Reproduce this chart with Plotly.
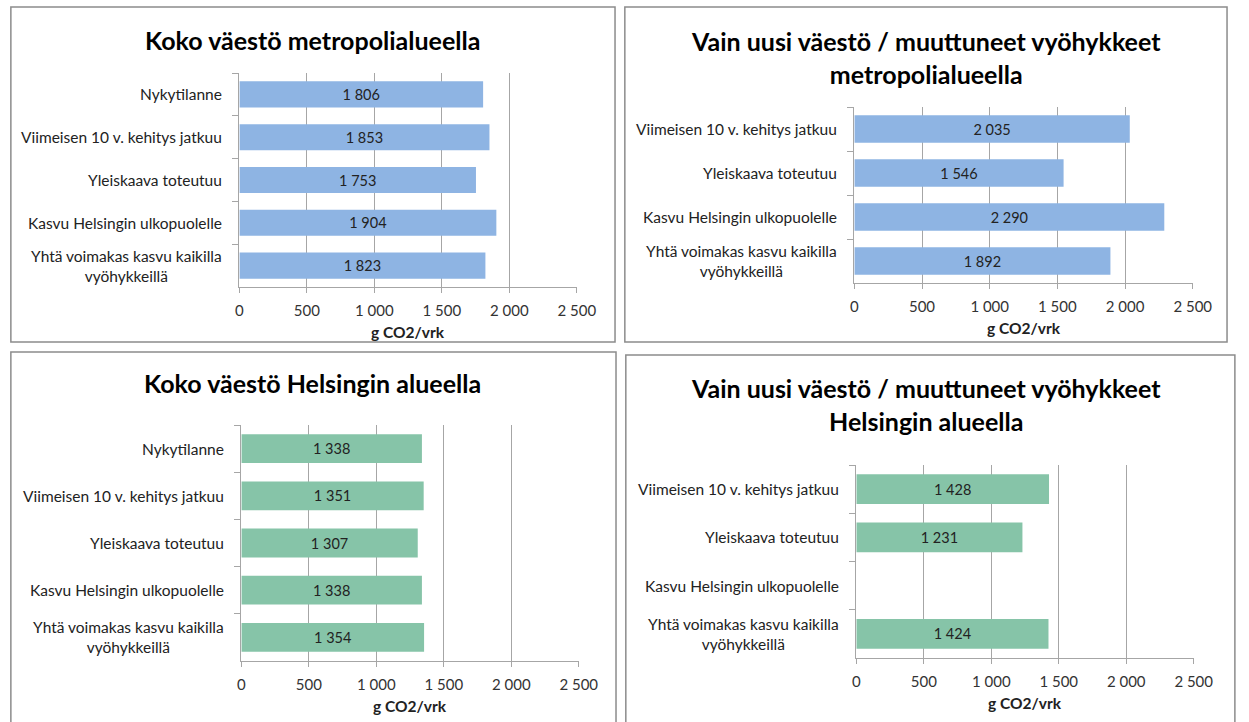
import plotly.graph_objects as go

W, H = 1249, 722

# ---- data ----
cats_all = ["Nykytilanne", "Viimeisen 10 v. kehitys jatkuu", "Yleiskaava toteutuu",
            "Kasvu Helsingin ulkopuolelle", "Yhtä voimakas kasvu kaikilla<br>vyöhykkeillä"]
cats_new = ["Viimeisen 10 v. kehitys jatkuu", "Yleiskaava toteutuu",
            "Kasvu Helsingin ulkopuolelle", "Yhtä voimakas kasvu kaikilla<br>vyöhykkeillä"]
metro_all = [1806, 1853, 1753, 1904, 1823]
metro_new = [2035, 1546, 2290, 1892]
hki_all = [1338, 1351, 1307, 1338, 1354]
hki_new = [1428, 1231, None, 1424]
x_ticks = [0, 500, 1000, 1500, 2000, 2500]
titles = ["Koko väestö metropolialueella",
          "Vain uusi väestö / muuttuneet vyöhykkeet<br>metropolialueella",
          "Koko väestö Helsingin alueella",
          "Vain uusi väestö / muuttuneet vyöhykkeet<br>Helsingin alueella"]
axis_title = "g CO2/vrk"

BLUE = "#8EB4E3"
GREEN = "#86C4A8"
GRID = "#A6A6A6"
FONT = "Lato"
TXT = "#222222"

panels = [
    dict(cats=cats_all, vals=metro_all, color=BLUE, title=titles[0],
         plot=(240, 584, 73, 287), border=(7, 623, 7, 342), tx=315, ty=40, w=0.61),
    dict(cats=cats_new, vals=metro_new, color=BLUE, title=titles[1],
         plot=(867, 1212, 107, 283), border=(633, 1247, 7, 342), tx=940, ty=57, w=0.63),
    dict(cats=cats_all, vals=hki_all, color=GREEN, title=titles[2],
         plot=(242, 586, 425, 661), border=(7, 624, 352, 730), tx=315, ty=383, w=0.61),
    dict(cats=cats_new, vals=hki_new, color=GREEN, title=titles[3],
         plot=(869, 1213, 465, 658), border=(634, 1255, 355, 730), tx=940, ty=404, w=0.62),
]

def px(x):
    return x / W

def py(y):
    return 1 - y / H

fig = go.Figure()
shapes = []
annotations = []
layout = {}

for i, p in enumerate(panels):
    n = i + 1
    xa = "x" if n == 1 else f"x{n}"
    ya = "y" if n == 1 else f"y{n}"
    xk = "xaxis" if n == 1 else f"xaxis{n}"
    yk = "yaxis" if n == 1 else f"yaxis{n}"
    x0, x1, y0, y1 = p["plot"]

    fig.add_trace(go.Bar(
        x=p["vals"], y=p["cats"], orientation="h", xaxis=xa, yaxis=ya,
        marker=dict(color=p["color"], line=dict(width=0)),
        width=p["w"],
        texttemplate="%{x:,d}", textposition="inside", insidetextanchor="middle",
        textfont=dict(family=FONT, size=14.5, color=TXT),
        hoverinfo="x+y", showlegend=False,
    ))

    layout[xk] = dict(
        domain=[px(x0), px(x1)], anchor=ya, range=[0, 2500],
        tickvals=x_ticks, tickformat=",d",
        showgrid=True, gridcolor=GRID, gridwidth=1, zeroline=False,
        showline=True, linecolor=GRID, linewidth=1,
        ticks="outside", ticklen=5, tickcolor=GRID,
        tickfont=dict(family=FONT, size=15, color="#333333"),
        ticklabelstandoff=5, fixedrange=True,
    )
    ncat = len(p["cats"])
    layout[yk] = dict(
        domain=[py(y1), py(y0)], anchor=xa, type="category",
        categoryorder="array", categoryarray=p["cats"],
        range=[ncat - 0.5, -0.5],
        showticklabels=False, showgrid=False, zeroline=False,
        showline=True, linecolor=GRID, linewidth=1,
        ticks="outside", ticklen=6, tickcolor=GRID, tickson="boundaries",
        fixedrange=True,
    )

    for c in p["cats"]:
        annotations.append(dict(
            text=c, xref=f"{xa} domain", yref=ya, x=0, y=c,
            xanchor="right", yanchor="middle", xshift=-15, align="center",
            showarrow=False, font=dict(family=FONT, size=15.5, color=TXT),
        ))

    bx0, bx1, by0, by1 = p["border"]
    annotations.append(dict(
        text=f"<b>{p['title']}</b>", xref="paper", yref="paper",
        x=px(p["tx"]), y=py(p["ty"]),
        xanchor="center", yanchor="middle", showarrow=False, align="center",
        font=dict(family=FONT, size=25, color="#000000"),
    ))
    annotations.append(dict(
        text=f"<b>{axis_title}</b>", xref=f"{xa} domain", yref="paper",
        x=0.5, y=py(y1 + 45), xanchor="center", yanchor="middle",
        showarrow=False, font=dict(family=FONT, size=15.5, color=TXT),
    ))

    shapes.append(dict(
        type="rect", xref="paper", yref="paper",
        x0=px(bx0), x1=px(bx1), y0=py(by1), y1=py(by0),
        line=dict(color="#8C8C8C", width=1.5), fillcolor="rgba(0,0,0,0)",
    ))

fig.update_layout(
    width=W, height=H, margin=dict(l=0, r=0, t=0, b=0),
    paper_bgcolor="white", plot_bgcolor="white",
    separators=", ", shapes=shapes, annotations=annotations,
    font=dict(family=FONT), **layout,
)

fig.write_html("out.html")
